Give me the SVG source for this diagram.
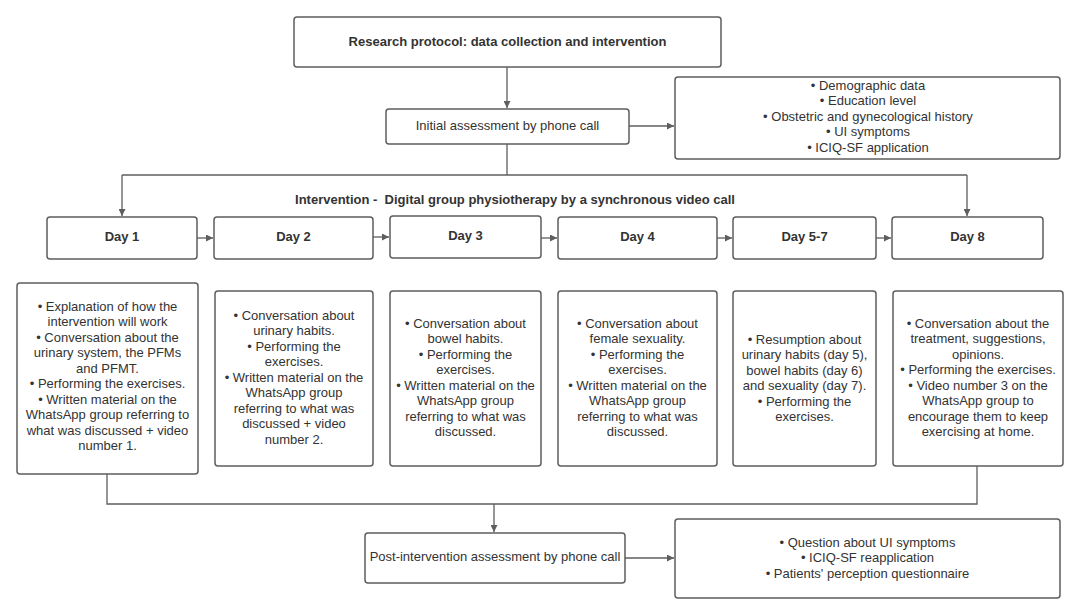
<svg xmlns="http://www.w3.org/2000/svg" width="1080" height="615" viewBox="0 0 1080 615">
<defs>
<marker id="ah" viewBox="0 0 10 10" refX="10" refY="5" markerWidth="8" markerHeight="7" markerUnits="userSpaceOnUse" orient="auto">
<path d="M0,0 L10,5 L0,10 Z" fill="#5e5e5e"/>
</marker>
<style>
.box{fill:#ffffff;stroke:#5e5e5e;stroke-width:1.5}
.t{font-family:"Liberation Sans",Arial,sans-serif;font-size:13px;fill:#333333;text-anchor:middle}
.b{font-weight:bold}
.c{fill:none;stroke:#5e5e5e;stroke-width:1.3}
.a{marker-end:url(#ah)}
</style>
</defs>
<rect width="1080" height="615" fill="#ffffff"/>

<g id="connectors">
<path class="c a" d="M507,67 V108"/>
<path class="c a" d="M629,126 H674"/>
<path class="c" d="M507,144 V175"/>
<path class="c" d="M122,175 H967"/>
<path class="c a" d="M122,175 V216"/>
<path class="c a" d="M967,175 V216"/>
<path class="c a" d="M197,238 H213"/>
<path class="c a" d="M373,237 H389"/>
<path class="c a" d="M541,238 H557"/>
<path class="c a" d="M717,238 H732"/>
<path class="c a" d="M876,238 H891"/>
<path class="c" d="M107,474 V504 H977 V466"/>
<path class="c a" d="M494,504 V532"/>
<path class="c a" d="M625,558 H674"/>
</g>

<g id="title">
<rect class="box" x="294" y="17" width="427" height="50" rx="3"/>
<text class="t b" x="507.5" y="46">Research protocol: data collection and intervention</text>
</g>

<g id="initial">
<rect class="box" x="386" y="109" width="243" height="35" rx="3"/>
<text class="t" x="507.5" y="130">Initial assessment by phone call</text>
</g>

<g id="initial-data">
<rect class="box" x="675" y="77" width="385" height="82" rx="3"/>
<text class="t" x="868" y="89.5">• Demographic data</text>
<text class="t" x="868" y="105">• Education level</text>
<text class="t" x="868" y="120.5">• Obstetric and gynecological history</text>
<text class="t" x="868" y="136">• UI symptoms</text>
<text class="t" x="868" y="151.5">• ICIQ-SF application</text>
</g>

<g id="intervention-label">
<text class="t b" x="515" y="204">Intervention - &#160;Digital group physiotherapy by a synchronous video call</text>
</g>

<g id="day1">
<rect class="box" x="47" y="217" width="150" height="42" rx="3"/>
<text class="t b" x="122" y="240.5">Day 1</text>
</g>
<g id="day2">
<rect class="box" x="214" y="217" width="159" height="42" rx="3"/>
<text class="t b" x="293.5" y="240.5">Day 2</text>
</g>
<g id="day3">
<rect class="box" x="390" y="216" width="151" height="42" rx="3"/>
<text class="t b" x="465.5" y="239.5">Day 3</text>
</g>
<g id="day4">
<rect class="box" x="558" y="217" width="159" height="42" rx="3"/>
<text class="t b" x="637.5" y="240.5">Day 4</text>
</g>
<g id="day5-7">
<rect class="box" x="733" y="217" width="143" height="42" rx="3"/>
<text class="t b" x="804.5" y="240.5">Day 5-7</text>
</g>
<g id="day8">
<rect class="box" x="892" y="217" width="151" height="42" rx="3"/>
<text class="t b" x="967.5" y="240.5">Day 8</text>
</g>

<g id="day1-content">
<rect class="box" x="17" y="283" width="181" height="191" rx="3"/>
<text class="t" x="107.5" y="310.5">• Explanation of how the</text>
<text class="t" x="107.5" y="326">intervention will work</text>
<text class="t" x="107.5" y="341.5">• Conversation about the</text>
<text class="t" x="107.5" y="357">urinary system, the PFMs</text>
<text class="t" x="107.5" y="372.5">and PFMT.</text>
<text class="t" x="107.5" y="388">• Performing the exercises.</text>
<text class="t" x="107.5" y="403.5">• Written material on the</text>
<text class="t" x="107.5" y="419">WhatsApp group referring to</text>
<text class="t" x="107.5" y="434.5">what was discussed + video</text>
<text class="t" x="107.5" y="450">number 1.</text>
</g>

<g id="day2-content">
<rect class="box" x="215" y="291" width="158" height="175" rx="3"/>
<text class="t" x="294" y="319.5">• Conversation about</text>
<text class="t" x="294" y="335">urinary habits.</text>
<text class="t" x="294" y="350.5">• Performing the</text>
<text class="t" x="294" y="366">exercises.</text>
<text class="t" x="294" y="381.5">• Written material on the</text>
<text class="t" x="294" y="397">WhatsApp group</text>
<text class="t" x="294" y="412.5">referring to what was</text>
<text class="t" x="294" y="428">discussed + video</text>
<text class="t" x="294" y="443.5">number 2.</text>
</g>

<g id="day3-content">
<rect class="box" x="390" y="291" width="151" height="175" rx="3"/>
<text class="t" x="465.5" y="327.5">• Conversation about</text>
<text class="t" x="465.5" y="343">bowel habits.</text>
<text class="t" x="465.5" y="358.5">• Performing the</text>
<text class="t" x="465.5" y="374">exercises.</text>
<text class="t" x="465.5" y="389.5">• Written material on the</text>
<text class="t" x="465.5" y="405">WhatsApp group</text>
<text class="t" x="465.5" y="420.5">referring to what was</text>
<text class="t" x="465.5" y="436">discussed.</text>
</g>

<g id="day4-content">
<rect class="box" x="558" y="291" width="159" height="175" rx="3"/>
<text class="t" x="637.5" y="327.5">• Conversation about</text>
<text class="t" x="637.5" y="343">female sexuality.</text>
<text class="t" x="637.5" y="358.5">• Performing the</text>
<text class="t" x="637.5" y="374">exercises.</text>
<text class="t" x="637.5" y="389.5">• Written material on the</text>
<text class="t" x="637.5" y="405">WhatsApp group</text>
<text class="t" x="637.5" y="420.5">referring to what was</text>
<text class="t" x="637.5" y="436">discussed.</text>
</g>

<g id="day5-7-content">
<rect class="box" x="733" y="291" width="143" height="175" rx="3"/>
<text class="t" x="804.5" y="343.5">• Resumption about</text>
<text class="t" x="804.5" y="359">urinary habits (day 5),</text>
<text class="t" x="804.5" y="374.5">bowel habits (day 6)</text>
<text class="t" x="804.5" y="390">and sexuality (day 7).</text>
<text class="t" x="804.5" y="405.5">• Performing the</text>
<text class="t" x="804.5" y="421">exercises.</text>
</g>

<g id="day8-content">
<rect class="box" x="893" y="291" width="170" height="175" rx="3"/>
<text class="t" x="978" y="327.5">• Conversation about the</text>
<text class="t" x="978" y="343">treatment, suggestions,</text>
<text class="t" x="978" y="358.5">opinions.</text>
<text class="t" x="978" y="374">• Performing the exercises.</text>
<text class="t" x="978" y="389.5">• Video number 3 on the</text>
<text class="t" x="978" y="405">WhatsApp group to</text>
<text class="t" x="978" y="420.5">encourage them to keep</text>
<text class="t" x="978" y="436">exercising at home.</text>
</g>

<g id="post">
<rect class="box" x="365" y="533" width="260" height="50" rx="3"/>
<text class="t" x="495" y="561">Post-intervention assessment by phone call</text>
</g>

<g id="post-data">
<rect class="box" x="675" y="519" width="385" height="79" rx="3"/>
<text class="t" x="867.5" y="546.5">• Question about UI symptoms</text>
<text class="t" x="867.5" y="562">• ICIQ-SF reapplication</text>
<text class="t" x="867.5" y="577.5">• Patients' perception questionnaire</text>
</g>
</svg>
